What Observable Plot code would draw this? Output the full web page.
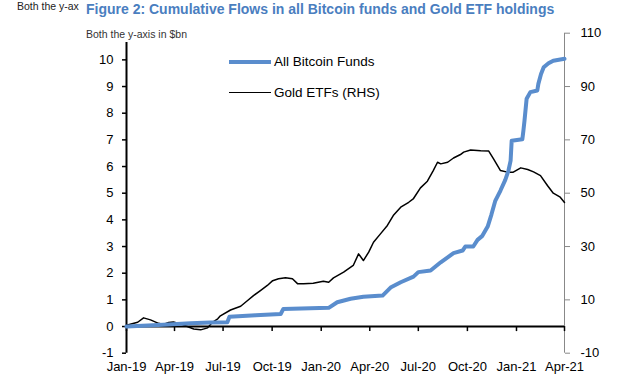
<!DOCTYPE html>
<html>
<head>
<meta charset="utf-8">
<script src="https://cdn.jsdelivr.net/npm/d3@7"></script>
<script src="https://cdn.jsdelivr.net/npm/@observablehq/plot@0.6"></script>
<style>
  html, body { margin: 0; padding: 0; background: #fff; }
  body { font-family: "Liberation Sans", Arial, sans-serif; }
  #wrap { position: relative; width: 620px; height: 378px; overflow: hidden; }
  #header { position: relative; height: 22px; }
  .abs { position: absolute; white-space: nowrap; line-height: 1; }
</style>
</head>
<body>
<div id="wrap">
  <div id="header">
    <span class="abs" id="clip" style="left:17px; top:0.6px; font-size:10.5px; color:#222;"></span>
    <span class="abs" id="title" style="left:86px; top:1.7px; font-size:14px; font-weight:bold; color:#4a7ebf;"></span>
  </div>
  <div id="chart"></div>
  <span class="abs" id="subtitle" style="left:86px; top:28.6px; font-size:10.5px; color:#333;"></span>
  <div class="abs" id="legend" style="left:229px; top:52px;"></div>
</div>
<script>
// ---- texts ----
const clippedText = "Both the y-ax";
const titleText = "Figure 2: Cumulative Flows in all Bitcoin funds and Gold ETF holdings";
const subtitleText = "Both the y-axis in $bn";
const seriesNames = ["All Bitcoin Funds", "Gold ETFs (RHS)"];
const seriesColors = ["#5a8dcd", "#000000"];

// ---- data ----
const btcDates = ["2019-01-01","2019-02-10","2019-03-20","2019-05-01","2019-06-07","2019-07-09","2019-07-13","2019-08-31","2019-10-17","2019-10-22","2020-01-15","2020-01-31","2020-02-25","2020-03-20","2020-04-25","2020-05-10","2020-05-29","2020-06-22","2020-07-01","2020-07-24","2020-08-12","2020-09-05","2020-09-22","2020-09-27","2020-10-12","2020-10-20","2020-10-29","2020-11-08","2020-11-15","2020-11-22","2020-12-02","2020-12-11","2020-12-17","2020-12-21","2020-12-23","2021-01-12","2021-01-14","2021-01-16","2021-01-20","2021-01-27","2021-02-09","2021-02-11","2021-02-16","2021-02-21","2021-03-02","2021-03-11","2021-04-01"];
const btcValues = [0.0,0.04,0.08,0.12,0.15,0.16,0.37,0.42,0.47,0.66,0.70,0.91,1.04,1.12,1.16,1.46,1.66,1.87,2.04,2.10,2.41,2.75,2.85,3.00,3.00,3.25,3.40,3.75,4.20,4.70,5.10,5.50,5.85,6.22,6.97,7.02,7.35,7.72,8.54,8.79,8.85,9.10,9.47,9.72,9.87,9.97,10.04];

const goldDates = ["2019-01-01","2019-01-22","2019-02-02","2019-02-15","2019-03-02","2019-03-11","2019-03-21","2019-03-30","2019-04-12","2019-04-25","2019-05-07","2019-05-20","2019-06-02","2019-06-11","2019-06-21","2019-06-26","2019-07-15","2019-08-03","2019-08-16","2019-08-27","2019-09-09","2019-09-22","2019-10-02","2019-10-13","2019-10-26","2019-11-08","2019-11-18","2019-11-29","2019-12-17","2020-01-05","2020-01-15","2020-01-24","2020-02-12","2020-03-01","2020-03-11","2020-03-20","2020-03-30","2020-04-08","2020-04-21","2020-05-04","2020-05-15","2020-05-29","2020-06-13","2020-06-22","2020-07-05","2020-07-18","2020-07-29","2020-08-06","2020-08-12","2020-08-25","2020-09-05","2020-09-18","2020-09-24","2020-10-07","2020-10-26","2020-11-10","2020-11-19","2020-12-02","2020-12-15","2020-12-26","2021-01-09","2021-01-22","2021-02-02","2021-02-15","2021-02-28","2021-03-11","2021-03-24","2021-04-01"];
const goldValues = [0.5,1.6,3.25,2.5,1.2,0.75,1.5,1.7,1.0,0.0,-0.9,-1.25,-0.5,1.6,2.9,4.0,6.2,7.6,9.75,11.6,13.5,15.4,17.2,17.9,18.25,17.9,16.0,16.0,16.25,17.0,16.6,18.25,20.4,22.9,27.25,24.75,27.9,31.6,34.75,37.9,41.6,44.75,46.6,48.0,52.0,54.5,58.5,61.6,61.0,61.6,63.2,64.5,65.4,66.2,65.9,65.8,62.9,58.5,57.9,57.9,59.5,58.9,58.0,56.6,52.9,50.0,48.5,46.5];

const xStart = "2019-01-01", xEnd = "2021-04-01";
const quarterLabels = ["2019-01-01","2019-04-01","2019-07-01","2019-10-01","2020-01-01","2020-04-01","2020-07-01","2020-10-01","2021-01-01","2021-04-01"];
const leftTicks = [-1,0,1,2,3,4,5,6,7,8,9,10];
const rightTicks = [-10,10,30,50,70,90,110];
const rhsFactor = 10;
const yDomain = [-1, 11];
const leftAxisTop = 10.65;

// ---- build ----
const parse = d3.utcParse("%Y-%m-%d");
const btc = btcDates.map((d, i) => ({date: parse(d), v: btcValues[i]}));
const gold = goldDates.map((d, i) => ({date: parse(d), v: goldValues[i]}));
const quarters = quarterLabels.map(parse);
const fmt = d3.utcFormat("%b-%y");

document.getElementById("clip").textContent = clippedText;
document.getElementById("title").textContent = titleText;
document.getElementById("subtitle").textContent = subtitleText;

const chart = Plot.plot({
  width: 620,
  height: 356,
  marginLeft: 126,
  marginRight: 56,
  marginTop: 10.7,
  marginBottom: 25.3,
  style: {fontFamily: "'Liberation Sans', Arial, sans-serif", fontSize: "13px", color: "#000", background: "#fff"},
  x: {type: "utc", domain: [parse(xStart), parse(xEnd)]},
  y: {domain: yDomain},
  marks: [
    Plot.axisY(leftTicks, {anchor: "left", tickSize: 4, tickPadding: 9, tickFormat: d => String(d), label: null, stroke: "#000", strokeWidth: 1.5, fontSize: 13}),
    Plot.axisY(rightTicks.map(d => d / rhsFactor), {anchor: "right", tickSize: 5, tickPadding: 11, tickFormat: d => String(Math.round(d * rhsFactor)), label: null, stroke: "#888", fill: "#000", fontSize: 13}),
    Plot.axisX(quarters, {anchor: "bottom", tickSize: 0, tickPadding: 9, tickFormat: fmt, label: null, fontSize: 13}),
    Plot.ruleX([parse(xEnd)], {y1: yDomain[0], y2: yDomain[1], stroke: "#888", strokeWidth: 1}),
    Plot.ruleX(quarters, {x: d => d, y1: 0, y2: -0.19, stroke: "#000", strokeWidth: 1.5}),
    Plot.ruleY([0], {stroke: "#000", strokeWidth: 2}),
    Plot.ruleX([parse(xStart)], {y1: yDomain[0], y2: leftAxisTop, stroke: "#000", strokeWidth: 2}),
    Plot.line(gold, {x: "date", y: d => d.v / rhsFactor, stroke: seriesColors[1], strokeWidth: 1.5}),
    Plot.line(btc, {x: "date", y: "v", stroke: seriesColors[0], strokeWidth: 4, strokeLinejoin: "round"})
  ]
});
document.getElementById("chart").appendChild(chart);

// ---- legend (HTML) ----
const legend = document.getElementById("legend");
const widths = [4, 1.5];
seriesNames.forEach((name, i) => {
  const row = document.createElement("div");
  row.style.cssText = `position:absolute; left:0; top:${i * 31}px; height:20px; white-space:nowrap;`;
  const sw = document.createElement("div");
  sw.style.cssText = `position:absolute; left:0; top:${9.7 - widths[i] / 2}px; width:42px; height:${widths[i]}px; background:${seriesColors[i]};`;
  const tx = document.createElement("span");
  tx.textContent = name;
  tx.style.cssText = "position:absolute; left:45px; top:3.3px; font-size:13.5px; line-height:1; color:#000;";
  row.appendChild(sw); row.appendChild(tx);
  legend.appendChild(row);
});
</script>
</body>
</html>
